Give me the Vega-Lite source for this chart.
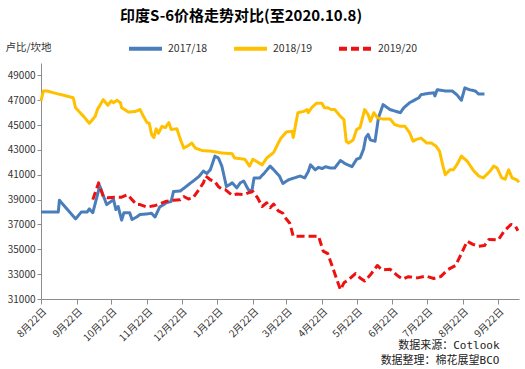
{
  "$schema": "https://vega.github.io/schema/vega-lite/v6.json",
  "width": 478,
  "height": 236,
  "autosize": {"type": "none"},
  "padding": {"left": 41, "top": 63, "right": 6, "bottom": 70},
  "background": "white",
  "title": {
    "text": "印度S-6价格走势对比(至2020.10.8)",
    "anchor": "start",
    "frame": "group",
    "dx": 79,
    "dy": -2,
    "fontSize": 15,
    "font": "Noto Sans CJK SC",
    "fontWeight": "bold",
    "color": "#000000"
  },
  "config": {
    "view": {"stroke": null},
    "font": "Noto Sans CJK SC"
  },
  "datasets": {
    "prices": [
      {"series": "2017/18", "date": "2019-08-22", "price": 38000},
      {"series": "2017/18", "date": "2019-09-06", "price": 38000},
      {"series": "2017/18", "date": "2019-09-07", "price": 38950},
      {"series": "2017/18", "date": "2019-09-21", "price": 37450},
      {"series": "2017/18", "date": "2019-09-26", "price": 38000},
      {"series": "2017/18", "date": "2019-10-01", "price": 38000},
      {"series": "2017/18", "date": "2019-10-03", "price": 38250},
      {"series": "2017/18", "date": "2019-10-06", "price": 37950},
      {"series": "2017/18", "date": "2019-10-12", "price": 40100},
      {"series": "2017/18", "date": "2019-10-18", "price": 38600},
      {"series": "2017/18", "date": "2019-10-24", "price": 39000},
      {"series": "2017/18", "date": "2019-10-26", "price": 38200},
      {"series": "2017/18", "date": "2019-10-28", "price": 38450},
      {"series": "2017/18", "date": "2019-10-31", "price": 37350},
      {"series": "2017/18", "date": "2019-11-02", "price": 37950},
      {"series": "2017/18", "date": "2019-11-07", "price": 37950},
      {"series": "2017/18", "date": "2019-11-09", "price": 37400},
      {"series": "2017/18", "date": "2019-11-13", "price": 37600},
      {"series": "2017/18", "date": "2019-11-16", "price": 37800},
      {"series": "2017/18", "date": "2019-11-22", "price": 37850},
      {"series": "2017/18", "date": "2019-11-26", "price": 37900},
      {"series": "2017/18", "date": "2019-11-29", "price": 37600},
      {"series": "2017/18", "date": "2019-12-03", "price": 38400},
      {"series": "2017/18", "date": "2019-12-09", "price": 38750},
      {"series": "2017/18", "date": "2019-12-13", "price": 38850},
      {"series": "2017/18", "date": "2019-12-15", "price": 39650},
      {"series": "2017/18", "date": "2019-12-21", "price": 39700},
      {"series": "2017/18", "date": "2019-12-28", "price": 40200},
      {"series": "2017/18", "date": "2020-01-06", "price": 40850},
      {"series": "2017/18", "date": "2020-01-10", "price": 41300},
      {"series": "2017/18", "date": "2020-01-13", "price": 41100},
      {"series": "2017/18", "date": "2020-01-16", "price": 41400},
      {"series": "2017/18", "date": "2020-01-20", "price": 42500},
      {"series": "2017/18", "date": "2020-01-23", "price": 42350},
      {"series": "2017/18", "date": "2020-01-26", "price": 41700},
      {"series": "2017/18", "date": "2020-01-30", "price": 40050},
      {"series": "2017/18", "date": "2020-02-04", "price": 40350},
      {"series": "2017/18", "date": "2020-02-08", "price": 39950},
      {"series": "2017/18", "date": "2020-02-11", "price": 40350},
      {"series": "2017/18", "date": "2020-02-14", "price": 40500},
      {"series": "2017/18", "date": "2020-02-18", "price": 39800},
      {"series": "2017/18", "date": "2020-02-21", "price": 39650},
      {"series": "2017/18", "date": "2020-02-23", "price": 40750},
      {"series": "2017/18", "date": "2020-02-28", "price": 40750},
      {"series": "2017/18", "date": "2020-03-03", "price": 41150},
      {"series": "2017/18", "date": "2020-03-08", "price": 41700},
      {"series": "2017/18", "date": "2020-03-12", "price": 41300},
      {"series": "2017/18", "date": "2020-03-16", "price": 40900},
      {"series": "2017/18", "date": "2020-03-19", "price": 40300},
      {"series": "2017/18", "date": "2020-03-24", "price": 40600},
      {"series": "2017/18", "date": "2020-03-29", "price": 40750},
      {"series": "2017/18", "date": "2020-04-03", "price": 40900},
      {"series": "2017/18", "date": "2020-04-07", "price": 40750},
      {"series": "2017/18", "date": "2020-04-10", "price": 41250},
      {"series": "2017/18", "date": "2020-04-12", "price": 41800},
      {"series": "2017/18", "date": "2020-04-16", "price": 41400},
      {"series": "2017/18", "date": "2020-04-19", "price": 41600},
      {"series": "2017/18", "date": "2020-04-22", "price": 41500},
      {"series": "2017/18", "date": "2020-04-25", "price": 41650},
      {"series": "2017/18", "date": "2020-04-29", "price": 41550},
      {"series": "2017/18", "date": "2020-05-03", "price": 41550},
      {"series": "2017/18", "date": "2020-05-08", "price": 42150},
      {"series": "2017/18", "date": "2020-05-12", "price": 41900},
      {"series": "2017/18", "date": "2020-05-18", "price": 41650},
      {"series": "2017/18", "date": "2020-05-22", "price": 42250},
      {"series": "2017/18", "date": "2020-05-25", "price": 42350},
      {"series": "2017/18", "date": "2020-05-28", "price": 43050},
      {"series": "2017/18", "date": "2020-05-30", "price": 44000},
      {"series": "2017/18", "date": "2020-06-01", "price": 44250},
      {"series": "2017/18", "date": "2020-06-03", "price": 43800},
      {"series": "2017/18", "date": "2020-06-07", "price": 43700},
      {"series": "2017/18", "date": "2020-06-10", "price": 45600},
      {"series": "2017/18", "date": "2020-06-14", "price": 46650},
      {"series": "2017/18", "date": "2020-06-20", "price": 46250},
      {"series": "2017/18", "date": "2020-06-29", "price": 46000},
      {"series": "2017/18", "date": "2020-07-02", "price": 46400},
      {"series": "2017/18", "date": "2020-07-07", "price": 46800},
      {"series": "2017/18", "date": "2020-07-15", "price": 47200},
      {"series": "2017/18", "date": "2020-07-17", "price": 47450},
      {"series": "2017/18", "date": "2020-07-23", "price": 47550},
      {"series": "2017/18", "date": "2020-07-28", "price": 47600},
      {"series": "2017/18", "date": "2020-07-29", "price": 47350},
      {"series": "2017/18", "date": "2020-07-31", "price": 47850},
      {"series": "2017/18", "date": "2020-08-07", "price": 47750},
      {"series": "2017/18", "date": "2020-08-13", "price": 47750},
      {"series": "2017/18", "date": "2020-08-17", "price": 47450},
      {"series": "2017/18", "date": "2020-08-21", "price": 47000},
      {"series": "2017/18", "date": "2020-08-24", "price": 48000},
      {"series": "2017/18", "date": "2020-08-28", "price": 47850},
      {"series": "2017/18", "date": "2020-09-02", "price": 47750},
      {"series": "2017/18", "date": "2020-09-05", "price": 47500},
      {"series": "2017/18", "date": "2020-09-10", "price": 47500},

      {"series": "2018/19", "date": "2019-08-22", "price": 46950},
      {"series": "2018/19", "date": "2019-08-24", "price": 47750},
      {"series": "2018/19", "date": "2019-08-27", "price": 47750},
      {"series": "2018/19", "date": "2019-09-02", "price": 47600},
      {"series": "2018/19", "date": "2019-09-19", "price": 47200},
      {"series": "2018/19", "date": "2019-09-21", "price": 46400},
      {"series": "2018/19", "date": "2019-09-25", "price": 46000},
      {"series": "2018/19", "date": "2019-09-28", "price": 45700},
      {"series": "2018/19", "date": "2019-10-03", "price": 45150},
      {"series": "2018/19", "date": "2019-10-08", "price": 45700},
      {"series": "2018/19", "date": "2019-10-10", "price": 46250},
      {"series": "2018/19", "date": "2019-10-15", "price": 47050},
      {"series": "2018/19", "date": "2019-10-19", "price": 46600},
      {"series": "2018/19", "date": "2019-10-22", "price": 46950},
      {"series": "2018/19", "date": "2019-10-24", "price": 46800},
      {"series": "2018/19", "date": "2019-10-27", "price": 47000},
      {"series": "2018/19", "date": "2019-10-30", "price": 46800},
      {"series": "2018/19", "date": "2019-10-31", "price": 46400},
      {"series": "2018/19", "date": "2019-11-06", "price": 46050},
      {"series": "2018/19", "date": "2019-11-12", "price": 46100},
      {"series": "2018/19", "date": "2019-11-16", "price": 46250},
      {"series": "2018/19", "date": "2019-11-19", "price": 45700},
      {"series": "2018/19", "date": "2019-11-22", "price": 45200},
      {"series": "2018/19", "date": "2019-11-24", "price": 45150},
      {"series": "2018/19", "date": "2019-11-26", "price": 44250},
      {"series": "2018/19", "date": "2019-11-28", "price": 44000},
      {"series": "2018/19", "date": "2019-11-30", "price": 44700},
      {"series": "2018/19", "date": "2019-12-02", "price": 44350},
      {"series": "2018/19", "date": "2019-12-05", "price": 44900},
      {"series": "2018/19", "date": "2019-12-08", "price": 44800},
      {"series": "2018/19", "date": "2019-12-11", "price": 45200},
      {"series": "2018/19", "date": "2019-12-13", "price": 44650},
      {"series": "2018/19", "date": "2019-12-18", "price": 44700},
      {"series": "2018/19", "date": "2019-12-21", "price": 43850},
      {"series": "2018/19", "date": "2019-12-24", "price": 43150},
      {"series": "2018/19", "date": "2019-12-27", "price": 43300},
      {"series": "2018/19", "date": "2019-12-31", "price": 43550},
      {"series": "2018/19", "date": "2020-01-03", "price": 43150},
      {"series": "2018/19", "date": "2020-01-09", "price": 42950},
      {"series": "2018/19", "date": "2020-01-17", "price": 42900},
      {"series": "2018/19", "date": "2020-01-26", "price": 42750},
      {"series": "2018/19", "date": "2020-02-04", "price": 42700},
      {"series": "2018/19", "date": "2020-02-06", "price": 42350},
      {"series": "2018/19", "date": "2020-02-15", "price": 42250},
      {"series": "2018/19", "date": "2020-02-19", "price": 41700},
      {"series": "2018/19", "date": "2020-02-22", "price": 42250},
      {"series": "2018/19", "date": "2020-03-01", "price": 41800},
      {"series": "2018/19", "date": "2020-03-05", "price": 42350},
      {"series": "2018/19", "date": "2020-03-11", "price": 42800},
      {"series": "2018/19", "date": "2020-03-15", "price": 43550},
      {"series": "2018/19", "date": "2020-03-17", "price": 43900},
      {"series": "2018/19", "date": "2020-03-22", "price": 44450},
      {"series": "2018/19", "date": "2020-03-27", "price": 44500},
      {"series": "2018/19", "date": "2020-03-28", "price": 44000},
      {"series": "2018/19", "date": "2020-04-01", "price": 46000},
      {"series": "2018/19", "date": "2020-04-06", "price": 46100},
      {"series": "2018/19", "date": "2020-04-09", "price": 46250},
      {"series": "2018/19", "date": "2020-04-10", "price": 46000},
      {"series": "2018/19", "date": "2020-04-13", "price": 46400},
      {"series": "2018/19", "date": "2020-04-17", "price": 46750},
      {"series": "2018/19", "date": "2020-04-22", "price": 46750},
      {"series": "2018/19", "date": "2020-04-24", "price": 46400},
      {"series": "2018/19", "date": "2020-04-27", "price": 46400},
      {"series": "2018/19", "date": "2020-04-30", "price": 46250},
      {"series": "2018/19", "date": "2020-05-03", "price": 46250},
      {"series": "2018/19", "date": "2020-05-08", "price": 45700},
      {"series": "2018/19", "date": "2020-05-11", "price": 45450},
      {"series": "2018/19", "date": "2020-05-13", "price": 43700},
      {"series": "2018/19", "date": "2020-05-15", "price": 43550},
      {"series": "2018/19", "date": "2020-05-19", "price": 43800},
      {"series": "2018/19", "date": "2020-05-22", "price": 44650},
      {"series": "2018/19", "date": "2020-05-25", "price": 44800},
      {"series": "2018/19", "date": "2020-05-29", "price": 46250},
      {"series": "2018/19", "date": "2020-06-01", "price": 45850},
      {"series": "2018/19", "date": "2020-06-03", "price": 45300},
      {"series": "2018/19", "date": "2020-06-06", "price": 46000},
      {"series": "2018/19", "date": "2020-06-09", "price": 45600},
      {"series": "2018/19", "date": "2020-06-13", "price": 45500},
      {"series": "2018/19", "date": "2020-06-20", "price": 45500},
      {"series": "2018/19", "date": "2020-06-24", "price": 45050},
      {"series": "2018/19", "date": "2020-06-29", "price": 44900},
      {"series": "2018/19", "date": "2020-07-03", "price": 44900},
      {"series": "2018/19", "date": "2020-07-07", "price": 44400},
      {"series": "2018/19", "date": "2020-07-10", "price": 43700},
      {"series": "2018/19", "date": "2020-07-13", "price": 43850},
      {"series": "2018/19", "date": "2020-07-17", "price": 43950},
      {"series": "2018/19", "date": "2020-07-22", "price": 43550},
      {"series": "2018/19", "date": "2020-07-26", "price": 43550},
      {"series": "2018/19", "date": "2020-07-30", "price": 43300},
      {"series": "2018/19", "date": "2020-08-02", "price": 42900},
      {"series": "2018/19", "date": "2020-08-05", "price": 41700},
      {"series": "2018/19", "date": "2020-08-07", "price": 41000},
      {"series": "2018/19", "date": "2020-08-11", "price": 41400},
      {"series": "2018/19", "date": "2020-08-14", "price": 41400},
      {"series": "2018/19", "date": "2020-08-17", "price": 41800},
      {"series": "2018/19", "date": "2020-08-21", "price": 42500},
      {"series": "2018/19", "date": "2020-08-26", "price": 42100},
      {"series": "2018/19", "date": "2020-08-31", "price": 41400},
      {"series": "2018/19", "date": "2020-09-05", "price": 40900},
      {"series": "2018/19", "date": "2020-09-09", "price": 40750},
      {"series": "2018/19", "date": "2020-09-15", "price": 41300},
      {"series": "2018/19", "date": "2020-09-18", "price": 41700},
      {"series": "2018/19", "date": "2020-09-21", "price": 41550},
      {"series": "2018/19", "date": "2020-09-25", "price": 40750},
      {"series": "2018/19", "date": "2020-09-28", "price": 40650},
      {"series": "2018/19", "date": "2020-10-01", "price": 41400},
      {"series": "2018/19", "date": "2020-10-04", "price": 40750},
      {"series": "2018/19", "date": "2020-10-08", "price": 40600},
      {"series": "2018/19", "date": "2020-10-10", "price": 40400},

      {"series": "2019/20", "date": "2019-10-06", "price": 39000},
      {"series": "2019/20", "date": "2019-10-11", "price": 40350},
      {"series": "2019/20", "date": "2019-10-15", "price": 39250},
      {"series": "2019/20", "date": "2019-10-19", "price": 39150},
      {"series": "2019/20", "date": "2019-10-25", "price": 39200},
      {"series": "2019/20", "date": "2019-10-31", "price": 39200},
      {"series": "2019/20", "date": "2019-11-05", "price": 39400},
      {"series": "2019/20", "date": "2019-11-10", "price": 38900},
      {"series": "2019/20", "date": "2019-11-13", "price": 38600},
      {"series": "2019/20", "date": "2019-11-16", "price": 38600},
      {"series": "2019/20", "date": "2019-11-22", "price": 38400},
      {"series": "2019/20", "date": "2019-11-28", "price": 38500},
      {"series": "2019/20", "date": "2019-12-02", "price": 38600},
      {"series": "2019/20", "date": "2019-12-08", "price": 38850},
      {"series": "2019/20", "date": "2019-12-15", "price": 38950},
      {"series": "2019/20", "date": "2019-12-21", "price": 39000},
      {"series": "2019/20", "date": "2019-12-24", "price": 39250},
      {"series": "2019/20", "date": "2019-12-28", "price": 39050},
      {"series": "2019/20", "date": "2020-01-01", "price": 39150},
      {"series": "2019/20", "date": "2020-01-06", "price": 39800},
      {"series": "2019/20", "date": "2020-01-10", "price": 40350},
      {"series": "2019/20", "date": "2020-01-12", "price": 40900},
      {"series": "2019/20", "date": "2020-01-16", "price": 40600},
      {"series": "2019/20", "date": "2020-01-20", "price": 40450},
      {"series": "2019/20", "date": "2020-01-23", "price": 40050},
      {"series": "2019/20", "date": "2020-01-26", "price": 39850},
      {"series": "2019/20", "date": "2020-01-29", "price": 39800},
      {"series": "2019/20", "date": "2020-02-04", "price": 39350},
      {"series": "2019/20", "date": "2020-02-08", "price": 39450},
      {"series": "2019/20", "date": "2020-02-14", "price": 39400},
      {"series": "2019/20", "date": "2020-02-18", "price": 39550},
      {"series": "2019/20", "date": "2020-02-22", "price": 39650},
      {"series": "2019/20", "date": "2020-02-26", "price": 39150},
      {"series": "2019/20", "date": "2020-03-01", "price": 38450},
      {"series": "2019/20", "date": "2020-03-05", "price": 38750},
      {"series": "2019/20", "date": "2020-03-08", "price": 38350},
      {"series": "2019/20", "date": "2020-03-11", "price": 38650},
      {"series": "2019/20", "date": "2020-03-15", "price": 38100},
      {"series": "2019/20", "date": "2020-03-19", "price": 37900},
      {"series": "2019/20", "date": "2020-03-21", "price": 37550},
      {"series": "2019/20", "date": "2020-03-25", "price": 37100},
      {"series": "2019/20", "date": "2020-03-28", "price": 36050},
      {"series": "2019/20", "date": "2020-04-03", "price": 36050},
      {"series": "2019/20", "date": "2020-04-19", "price": 36050},
      {"series": "2019/20", "date": "2020-04-20", "price": 35750},
      {"series": "2019/20", "date": "2020-04-23", "price": 34850},
      {"series": "2019/20", "date": "2020-04-27", "price": 34650},
      {"series": "2019/20", "date": "2020-04-30", "price": 33850},
      {"series": "2019/20", "date": "2020-05-08", "price": 31750},
      {"series": "2019/20", "date": "2020-05-11", "price": 32300},
      {"series": "2019/20", "date": "2020-05-15", "price": 32550},
      {"series": "2019/20", "date": "2020-05-21", "price": 33050},
      {"series": "2019/20", "date": "2020-05-25", "price": 32700},
      {"series": "2019/20", "date": "2020-05-29", "price": 32450},
      {"series": "2019/20", "date": "2020-06-03", "price": 32950},
      {"series": "2019/20", "date": "2020-06-09", "price": 33700},
      {"series": "2019/20", "date": "2020-06-13", "price": 33350},
      {"series": "2019/20", "date": "2020-06-20", "price": 33400},
      {"series": "2019/20", "date": "2020-06-27", "price": 32850},
      {"series": "2019/20", "date": "2020-07-01", "price": 32600},
      {"series": "2019/20", "date": "2020-07-06", "price": 32800},
      {"series": "2019/20", "date": "2020-07-14", "price": 32700},
      {"series": "2019/20", "date": "2020-07-21", "price": 32850},
      {"series": "2019/20", "date": "2020-07-28", "price": 32650},
      {"series": "2019/20", "date": "2020-08-03", "price": 32800},
      {"series": "2019/20", "date": "2020-08-09", "price": 33350},
      {"series": "2019/20", "date": "2020-08-16", "price": 33700},
      {"series": "2019/20", "date": "2020-08-21", "price": 34650},
      {"series": "2019/20", "date": "2020-08-26", "price": 35650},
      {"series": "2019/20", "date": "2020-08-31", "price": 35400},
      {"series": "2019/20", "date": "2020-09-05", "price": 35250},
      {"series": "2019/20", "date": "2020-09-10", "price": 35300},
      {"series": "2019/20", "date": "2020-09-14", "price": 35800},
      {"series": "2019/20", "date": "2020-09-22", "price": 35750},
      {"series": "2019/20", "date": "2020-09-27", "price": 36450},
      {"series": "2019/20", "date": "2020-10-03", "price": 37000},
      {"series": "2019/20", "date": "2020-10-07", "price": 36850},
      {"series": "2019/20", "date": "2020-10-09", "price": 36500}
    ]
  },
  "data": {"name": "prices"},
  "mark": {"type": "line", "strokeWidth": 3, "strokeJoin": "round", "strokeCap": "butt"},
  "encoding": {
    "x": {
      "field": "date",
      "type": "temporal",
      "scale": {
        "type": "utc",
        "domain": [
          {"year": 2019, "month": 8, "date": 22, "utc": true},
          {"year": 2020, "month": 10, "date": 10, "utc": true}
        ]
      },
      "axis": {
        "values": [
          {"year": 2019, "month": 8, "date": 22, "utc": true},
          {"year": 2019, "month": 9, "date": 22, "utc": true},
          {"year": 2019, "month": 10, "date": 22, "utc": true},
          {"year": 2019, "month": 11, "date": 22, "utc": true},
          {"year": 2019, "month": 12, "date": 22, "utc": true},
          {"year": 2020, "month": 1, "date": 22, "utc": true},
          {"year": 2020, "month": 2, "date": 22, "utc": true},
          {"year": 2020, "month": 3, "date": 22, "utc": true},
          {"year": 2020, "month": 4, "date": 22, "utc": true},
          {"year": 2020, "month": 5, "date": 22, "utc": true},
          {"year": 2020, "month": 6, "date": 22, "utc": true},
          {"year": 2020, "month": 7, "date": 22, "utc": true},
          {"year": 2020, "month": 8, "date": 22, "utc": true},
          {"year": 2020, "month": 9, "date": 22, "utc": true}
        ],
        "format": "%-m月%-d日",
        "labelAngle": -45,
        "labelOverlap": false,
        "labelFlush": false,
        "labelBound": false,
        "labelFontSize": 10,
        "labelColor": "#333333",
        "labelPadding": 2,
        "tickSize": 5,
        "tickColor": "#8c8c8c",
        "domainColor": "#8c8c8c",
        "grid": false,
        "title": ["数据来源：Cotlook", "数据整理：棉花展望BCO"],
        "titleFont": "DejaVu Sans Mono, Noto Sans CJK SC",
        "titleFontSize": 11,
        "titleFontWeight": "normal",
        "titleColor": "#222222",
        "titleAlign": "right",
        "titleAnchor": null,
        "titleBaseline": "top",
        "titleLineHeight": 15,
        "titleX": 458,
        "titleY": 40
      }
    },
    "y": {
      "field": "price",
      "type": "quantitative",
      "scale": {"domain": [31000, 50000], "nice": false, "zero": false},
      "axis": {
        "values": [31000, 33000, 35000, 37000, 39000, 41000, 43000, 45000, 47000, 49000],
        "format": "d",
        "labelFontSize": 10,
        "labelColor": "#333333",
        "labelPadding": 2,
        "tickSize": 4,
        "tickColor": "#8c8c8c",
        "domainColor": "#8c8c8c",
        "grid": false,
        "title": "卢比/坎地",
        "titleAngle": 0,
        "titleAlign": "left",
        "titleBaseline": "middle",
        "titleFontWeight": "normal",
        "titleFontSize": 10.5,
        "titleColor": "#333333",
        "titleX": -36,
        "titleY": -16
      }
    },
    "color": {
      "field": "series",
      "type": "nominal",
      "scale": {
        "domain": ["2017/18", "2018/19", "2019/20"],
        "range": ["#4A7EBB", "#FFC000", "#EE1111"]
      },
      "legend": {
        "orient": "none",
        "legendX": 86,
        "legendY": -33,
        "direction": "horizontal",
        "title": null,
        "symbolType": "stroke",
        "symbolSize": 1089,
        "symbolStrokeWidth": 4,
        "labelFontSize": 10.5,
        "labelColor": "#333333",
        "labelOffset": 4,
        "columnPadding": 18
      }
    },
    "strokeDash": {
      "field": "series",
      "type": "nominal",
      "scale": {
        "domain": ["2017/18", "2018/19", "2019/20"],
        "range": [[1, 0], [1, 0], [8, 4]]
      },
      "legend": {
        "orient": "none",
        "legendX": 86,
        "legendY": -33,
        "direction": "horizontal",
        "title": null,
        "symbolType": "stroke",
        "symbolSize": 1089,
        "symbolStrokeWidth": 4,
        "labelFontSize": 10.5,
        "labelColor": "#333333",
        "labelOffset": 4,
        "columnPadding": 18
      }
    }
  }
}
